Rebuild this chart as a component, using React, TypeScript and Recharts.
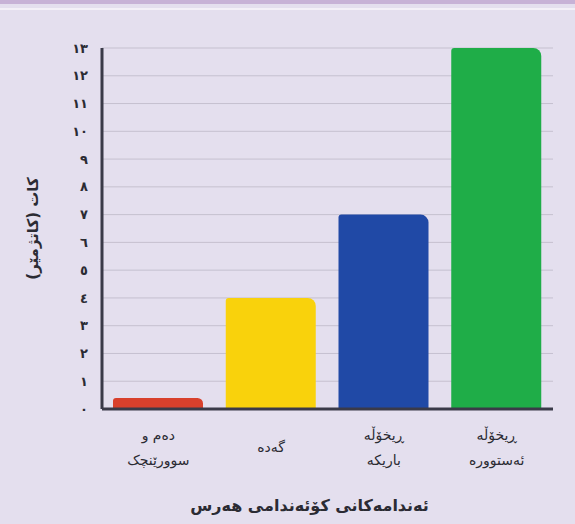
import React from 'react';
import { BarChart, Bar, XAxis, YAxis, CartesianGrid, Cell } from 'recharts';

const categories = ['دەم و\nسوورێنچک', 'گەدە', 'ڕیخۆڵە\nباریکە', 'ڕیخۆڵە\nئەستوورە'];
const hours = [0.4, 4, 7, 13];
const barColors = ['#d8402c', '#f9d20c', '#2049a6', '#1fad48'];
const yTicks = [0, 1, 2, 3, 4, 5, 6, 7, 8, 9, 10, 11, 12, 13];
const yTitle = 'کات (کاتژمێر)';
const xTitle = 'ئەندامەکانی کۆئەندامی هەرس';

const data = categories.map((c, i) => ({ name: c, value: hours[i] }));

const toArabicDigits = (n: number) =>
  String(n).replace(/[0-9]/g, (d) => '٠١٢٣٤٥٦٧٨٩'[Number(d)]);

const FONT = '"DejaVu Sans", sans-serif';

const XTick = (props: any) => {
  const { x, y, payload } = props;
  const lines: string[] = String(payload.value).split('\n');
  const lineH = 25;
  const startY = y + 35 - ((lines.length - 1) * lineH) / 2;
  return (
    <g>
      {lines.map((l, i) => (
        <text
          key={i}
          x={x}
          y={startY + i * lineH}
          textAnchor="middle"
          fontFamily={FONT}
          fontSize={14}
          fill="#2b2b33"
          direction="rtl"
          style={{ unicodeBidi: 'plaintext' } as any}
        >
          {l}
        </text>
      ))}
    </g>
  );
};

export default function App() {
  return (
    <div
      style={{
        position: 'absolute',
        left: 0,
        top: 0,
        width: 575,
        height: 524,
        background: '#e4dfee',
        overflow: 'hidden',
      }}
    >
      <div style={{ position: 'absolute', left: 0, top: 0, width: 575, height: 4, background: '#c7b2d6' }} />
      <div style={{ position: 'absolute', left: 0, top: 8, width: 575, height: 2, background: '#f3f0f7' }} />
      <BarChart
        width={575}
        height={524}
        data={data}
        margin={{ top: 48, right: 22, left: 0, bottom: 0 }}
        barSize={90}
      >
        <CartesianGrid horizontal={true} vertical={false} stroke="#c5c0cf" strokeWidth={1} />
        <XAxis
          dataKey="name"
          height={115}
          tick={<XTick />}
          tickLine={false}
          axisLine={{ stroke: '#3a3a48', strokeWidth: 3 }}
          interval={0}
          label={{
            value: xTitle,
            position: 'insideBottom',
            offset: 13,
            dx: -18,
            fontFamily: FONT,
            fontSize: 16,
            fontWeight: 'bold',
            fill: '#2b2b33',
          }}
        />
        <YAxis
          width={102}
          domain={[0, 13]}
          ticks={yTicks}
          interval={0}
          tickFormatter={toArabicDigits}
          tickLine={false}
          tickMargin={8}
          axisLine={{ stroke: '#3a3a48', strokeWidth: 3 }}
          tick={{ fontFamily: FONT, fontSize: 13, fill: '#2b2b33', fontWeight: 'bold' }}
          label={{
            value: yTitle,
            angle: -90,
            position: 'center',
            dx: -18,
            fontFamily: FONT,
            fontSize: 15,
            fontWeight: 'bold',
            fill: '#2b2b33',
          }}
        />
        <Bar dataKey="value" isAnimationActive={false} radius={[3, 8, 0, 0]}>
          {data.map((d, i) => (
            <Cell key={i} fill={barColors[i]} />
          ))}
        </Bar>
      </BarChart>
    </div>
  );
}
